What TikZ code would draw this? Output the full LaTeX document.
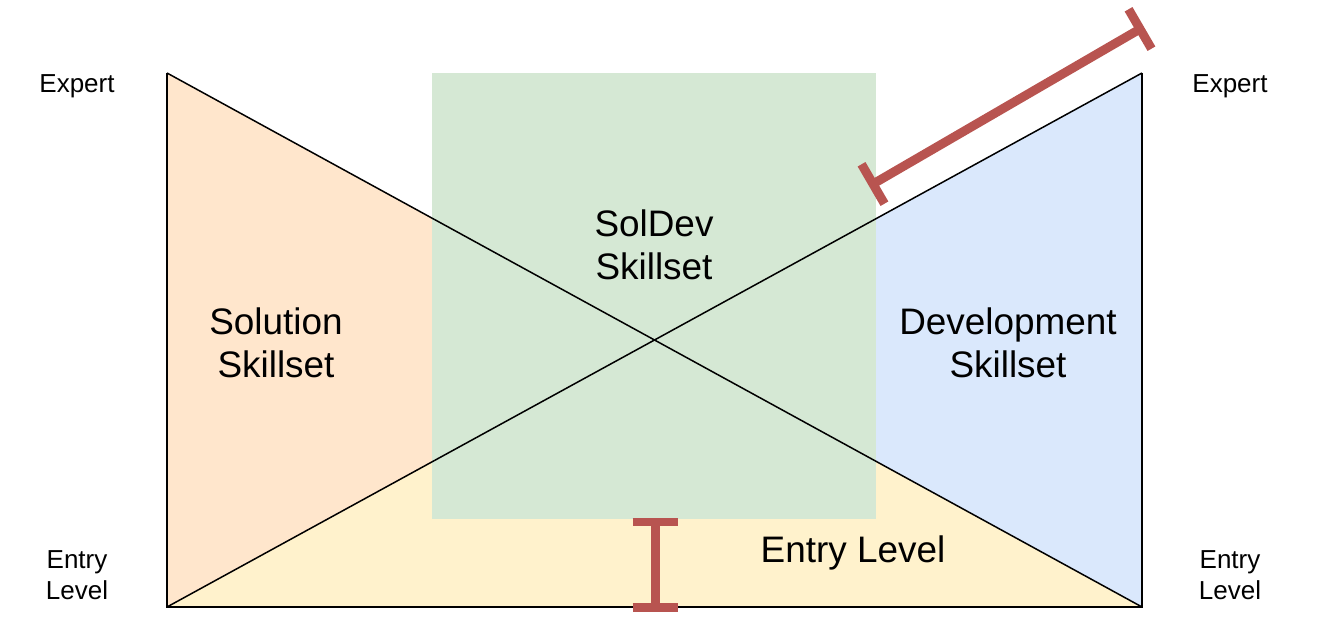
\documentclass[tikz,border=0pt]{standalone}
\usepackage{fontspec}
\setmainfont{Liberation Sans}
\usepackage{tikz}
\usetikzlibrary{calc}
\definecolor{solfill}{HTML}{FFE6CC}
\definecolor{devfill}{HTML}{DAE8FC}
\definecolor{entryfill}{HTML}{FFF2CC}
\definecolor{mixfill}{HTML}{D5E8D4}
\definecolor{barred}{HTML}{B85450}
\tikzset{
	edge/.style={draw=black, line width=0.03cm}, % thin black outline
	bar/.style={draw=barred, line width=0.18cm},
	skill/.style={align=center, font=\fontsize{21}{24.5}\selectfont},
	lvl/.style={align=center, font=\fontsize{14.8}{17.6}\selectfont},
}
\begin{document}
\begin{tikzpicture}[x=0.02cm, y=-0.02cm]
      \useasboundingbox (0,0) rectangle (1318,624);
      \coordinate (lt) at (167,73);
      \coordinate (lb) at (167,607);
      \coordinate (rt) at (1142,73);
      \coordinate (rb) at (1142,607);
      \coordinate (mid) at (654.5,340);

      \fill[solfill] (lt) -- (lb) -- (mid) -- cycle;
      \fill[devfill] (rt) -- (rb) -- (mid) -- cycle;
      \fill[entryfill] (lb) -- (rb) -- (mid) -- cycle;
      \fill[mixfill] (432,73) rectangle (876,519);

      \draw[edge] (lt) -- (lb) -- (rb) -- (rt);
      \draw[edge] (lt) -- (rb);
      \draw[edge] (lb) -- (rt);

      % gap bars
      \coordinate (g1) at (655,522);
      \coordinate (g2) at (655,607);
      \draw[bar] (g1) -- (g2);
      \draw[bar] ($(g1)+(-22.5,0)$) -- ($(g1)+(22.5,0)$);
      \draw[bar] ($(g2)+(-22.5,0)$) -- ($(g2)+(22.5,0)$);

      \coordinate (s1) at (873,184);
      \coordinate (s2) at (1140,29);
      \draw[bar] (s1) -- (s2);
      \draw[bar] ($(s1)!0.456cm!90:(s2)$) -- ($(s1)!0.456cm!-90:(s2)$);
      \draw[bar] ($(s2)!0.456cm!90:(s1)$) -- ($(s2)!0.456cm!-90:(s1)$);

      \node[skill] (sol) at (276,343) {Solution\\Skillset};
      \node[skill] (soldev) at (654,245) {SolDev\\Skillset};
      \node[skill] (dev) at (1008,343) {Development\\Skillset};
      \node[skill] (entry) at (853,553) {Entry Level};

      \node[lvl] (expl) at (77,86) {Expert};
      \node[lvl] (expr) at (1230,86) {Expert};
      \node[lvl] (entl) at (77,575) {Entry\\Level};
      \node[lvl] (entr) at (1230,575) {Entry\\Level};
\end{tikzpicture}
\end{document}
